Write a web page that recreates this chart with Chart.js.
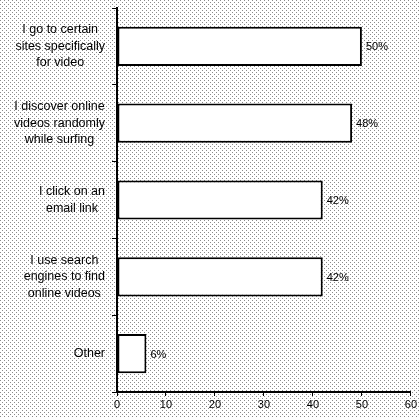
<!DOCTYPE html>
<html>
<head>
<meta charset="utf-8">
<script src="https://cdn.jsdelivr.net/npm/chart.js@4.4.1/dist/chart.umd.min.js"></script>
<style>
  html, body { margin: 0; padding: 0; background: #fff; }
  #wrap { width: 419px; height: 417px; position: relative; }
</style>
</head>
<body>
<div id="wrap"><canvas id="c" width="419" height="417"></canvas></div>
<script>
// Ways people find online videos (share of respondents, %)
const categories = [
  ['I go to certain', 'sites specifically', 'for video'],
  ['I discover online', 'videos randomly', 'while surfing'],
  ['I click on an', 'email link'],
  ['I use search', 'engines to find', 'online videos'],
  ['Other']
];
const shares = [50, 48, 42, 42, 6];
const xTicks = [0, 10, 20, 30, 40, 50, 60];

const FONT = '"Liberation Sans", Arial, sans-serif';

// halftone-like dotted backdrop
function makeDotPattern(ctx) {
  const p = document.createElement('canvas');
  p.width = 4; p.height = 4;
  const g = p.getContext('2d');
  g.fillStyle = '#ffffff';
  g.fillRect(0, 0, 4, 4);
  g.fillStyle = '#8a8a8a';
  g.fillRect(0, 0, 1, 1);
  g.fillRect(2, 2, 1, 1);
  return ctx.createPattern(p, 'repeat');
}

const backdrop = {
  id: 'backdrop',
  beforeDraw(chart) {
    const ctx = chart.ctx;
    ctx.save();
    ctx.fillStyle = makeDotPattern(ctx);
    ctx.fillRect(0, 0, chart.width, chart.height);
    ctx.restore();
  }
};

// category labels: each block right-aligned against the axis, its lines centred
const categoryLabels = {
  id: 'categoryLabels',
  afterDraw(chart) {
    const ctx = chart.ctx;
    const y = chart.scales.y;
    const right = y.right - 12;
    const lineH = 16.5;
    ctx.save();
    ctx.font = '12.5px ' + FONT;
    ctx.fillStyle = '#000';
    ctx.textAlign = 'center';
    ctx.textBaseline = 'middle';
    categories.forEach((lines, i) => {
      const w = Math.max(...lines.map(l => ctx.measureText(l).width));
      const cx = right - w / 2;
      const cy = y.getPixelForValue(i);
      const y0 = cy - (lines.length - 1) * lineH / 2;
      lines.forEach((l, k) => ctx.fillText(l, cx, y0 + k * lineH));
    });
    ctx.restore();
  }
};

const valueLabels = {
  id: 'valueLabels',
  afterDatasetsDraw(chart) {
    const ctx = chart.ctx;
    const meta = chart.getDatasetMeta(0);
    ctx.save();
    ctx.font = '11px ' + FONT;
    ctx.fillStyle = '#000';
    ctx.textAlign = 'left';
    ctx.textBaseline = 'middle';
    meta.data.forEach((bar, i) => {
      ctx.fillText(shares[i] + '%', bar.x + 4, bar.y + 1);
    });
    ctx.restore();
  }
};

new Chart(document.getElementById('c'), {
  type: 'bar',
  data: {
    labels: categories,
    datasets: [{
      data: shares,
      backgroundColor: '#ffffff',
      borderColor: '#000000',
      borderWidth: 2,
      borderSkipped: false,
      barPercentage: 0.51,
      categoryPercentage: 1
    }]
  },
  options: {
    indexAxis: 'y',
    responsive: false,
    animation: false,
    layout: { padding: { top: 8, right: 8, left: 0, bottom: 0 } },
    plugins: { legend: { display: false }, tooltip: { enabled: false } },
    scales: {
      x: {
        min: 0, max: 60,
        afterBuildTicks(scale) { scale.ticks = xTicks.map(v => ({ value: v })); },
        afterFit(scale) { scale.height = 25; },
        grid: { drawOnChartArea: false, drawTicks: true, tickLength: 4, color: '#000', lineWidth: 1 },
        border: { display: true, color: '#000', width: 2 },
        ticks: { color: '#000', font: { family: FONT, size: 11 }, padding: 2, maxRotation: 0 }
      },
      y: {
        afterFit(scale) { scale.width = 117; },
        grid: { drawOnChartArea: false, drawTicks: true, tickLength: 5, color: '#000', lineWidth: 1, offset: true },
        border: { display: true, color: '#000', width: 2 },
        ticks: { display: false }
      }
    }
  },
  plugins: [backdrop, categoryLabels, valueLabels]
});
</script>
</body>
</html>
